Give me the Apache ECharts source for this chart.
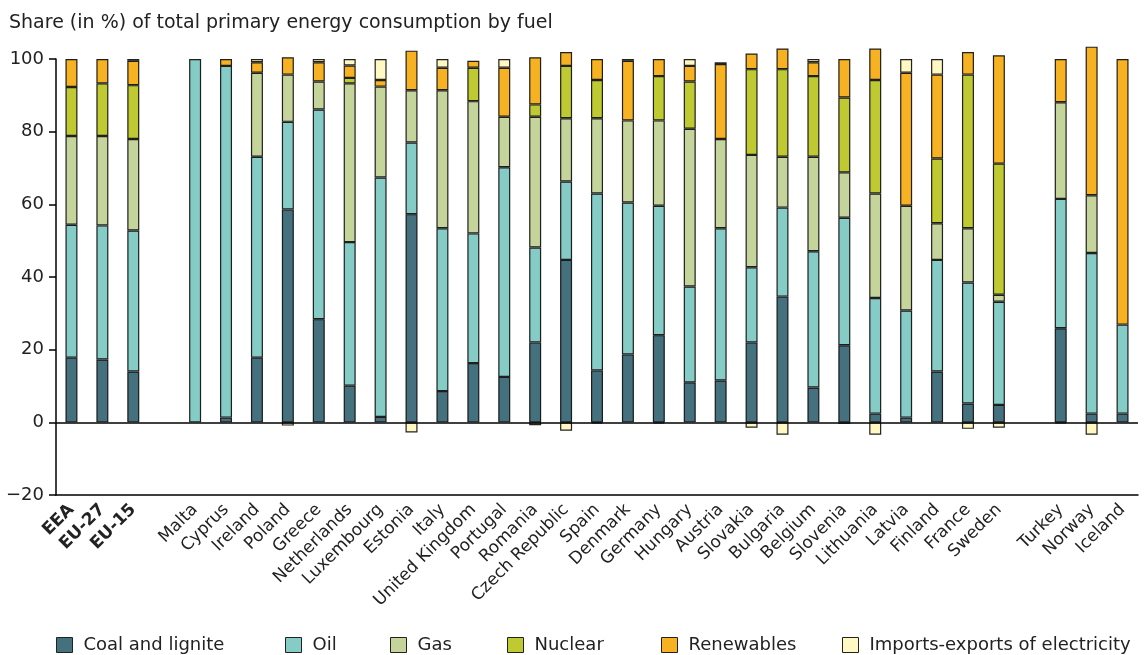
<!DOCTYPE html>
<html>
<head>
<meta charset="utf-8">
<script src="https://cdn.jsdelivr.net/npm/echarts@6/dist/echarts.min.js"></script>
<style>
html,body{margin:0;padding:0;background:#fff;}
#chart{width:1146px;height:655px;}
</style>
</head>
<body>
<div id="chart"></div>
<script>
const categories = ['EEA','EU-27','EU-15','','Malta','Cyprus','Ireland','Poland','Greece','Netherlands','Luxembourg','Estonia','Italy','United Kingdom','Portugal','Romania','Czech Republic','Spain','Denmark','Germany','Hungary','Austria','Slovakia','Bulgaria','Belgium','Slovenia','Lithuania','Latvia','Finland','France','Sweden',' ','Turkey','Norway','Iceland'];
const boldCategories = ['EEA','EU-27','EU-15'];

const coal    = [17.8,17.3,14.0,null,0,1.3,17.8,58.6,28.4,10.1,1.5,57.3,8.6,16.3,12.5,22.0,44.7,14.3,18.7,24.0,11.0,11.5,22.0,34.6,9.6,21.2,2.4,1.3,14.0,5.2,4.8,null,25.9,2.4,2.4];
const oil     = [36.6,36.9,38.8,null,100,96.8,55.3,24.1,57.7,39.5,65.9,19.7,44.8,35.7,57.7,26.1,21.6,48.7,41.8,35.6,26.4,41.9,20.7,24.5,37.5,35.1,31.8,29.5,30.7,33.3,28.4,null,35.6,44.2,24.5];
const gas     = [24.4,24.6,25.2,null,0,0,23.1,13.0,7.7,43.7,25.0,14.4,38.0,36.4,13.9,36.0,17.4,20.7,22.6,23.5,43.4,24.6,30.9,14.0,26.0,12.5,28.8,28.8,10.1,14.9,1.9,null,26.6,15.9,0];
const nuclear = [13.5,14.5,14.8,null,0,0,0,0,0,1.5,0,0,0,9.2,0,3.4,14.4,10.5,0,12.2,13.0,0,23.6,24.1,22.2,20.6,31.2,0,17.8,42.3,36.1,null,0,0,0];
const renewables = [7.7,6.7,6.7,null,0,1.9,2.9,4.8,5.3,3.4,1.8,10.9,6.2,1.9,13.5,13.0,3.8,5.8,16.4,4.7,4.3,20.6,4.3,5.7,3.8,10.6,8.7,36.6,23.1,6.2,29.8,null,11.9,40.9,73.1];
const imports = [0,0,0.5,null,0,0,0.9,-0.9,0.9,1.8,5.8,-2.8,2.4,0,2.4,-0.8,-2.3,-0.3,0.5,-0.3,1.9,0.5,-1.5,-3.4,0.9,-0.4,-3.4,3.8,4.3,-1.8,-1.5,null,-0.3,-3.4,0];

const seriesNames = ['Coal and lignite','Oil','Gas','Nuclear','Renewables','Imports-exports of electricity'];
const seriesData = [coal, oil, gas, nuclear, renewables, imports];
const colors = ['#45717f','#85cbc6','#c4d49a','#bfca32','#f6b223','#fff8c2'];
const legendLefts = [56, 285, 390, 507, 661, 842];

const FONT = 'DejaVu Sans';
const chart = echarts.init(document.getElementById('chart'), null, {renderer:'canvas'});

const series = seriesNames.map((name, i) => ({
  name: name,
  type: 'bar',
  stack: 'total',
  barWidth: 12,
  clip: false,
  data: seriesData[i].map(v => (v === null || v === 0) ? '-' : v),
  itemStyle: {color: colors[i], borderColor: 'rgba(10,10,10,0.9)', borderWidth: 1.2},
  emphasis: {disabled: true},
  animation: false
}));
series[0].markLine = {
  silent: true,
  symbol: ['none','none'],
  label: {show: false},
  lineStyle: {color: '#000', width: 1.5, type: 'solid'},
  data: [{yAxis: 0}],
  animation: false
};

const legends = seriesNames.map((name, i) => ({
  data: [name],
  left: legendLefts[i],
  top: 636,
  padding: 0,
  itemWidth: 16,
  itemHeight: 15,
  itemGap: 0,
  icon: 'rect',
  selectedMode: false,
  textStyle: {fontFamily: FONT, fontSize: 18, color: '#222', padding: [0,0,0,6]},
  itemStyle: {borderColor: '#222', borderWidth: 1}
}));

chart.setOption({
  animation: false,
  backgroundColor: '#fff',
  title: {
    text: 'Share (in %) of total primary energy consumption by fuel',
    left: 4, top: 9,
    textStyle: {fontFamily: FONT, fontSize: 19, fontWeight: 'normal', color: '#222'}
  },
  legend: legends,
  grid: {left: 56, right: 8, top: 59, bottom: 160, containLabel: false},
  xAxis: {
    type: 'category',
    data: categories,
    axisLine: {onZero: false, lineStyle: {color: '#000', width: 1.5}},
    axisTick: {show: false},
    axisLabel: {
      interval: 0,
      rotate: 45,
      margin: 12,
      fontFamily: FONT,
      fontSize: 17,
      color: '#222',
      formatter: v => boldCategories.includes(v) ? '{b|' + v + '}' : v,
      rich: {b: {fontFamily: FONT, fontSize: 17, fontWeight: 'bold', color: '#222'}}
    }
  },
  yAxis: {
    type: 'value',
    min: -20, max: 100, interval: 20,
    axisLine: {show: true, lineStyle: {color: '#000', width: 1.5}},
    axisTick: {show: true, length: 7, lineStyle: {color: '#000', width: 1.5}},
    splitLine: {show: false},
    axisLabel: {
      fontFamily: FONT, fontSize: 18, color: '#222', margin: 12,
      formatter: v => v < 0 ? '\u2212' + Math.abs(v) : String(v)
    }
  },
  series: series
});
</script>
</body>
</html>
